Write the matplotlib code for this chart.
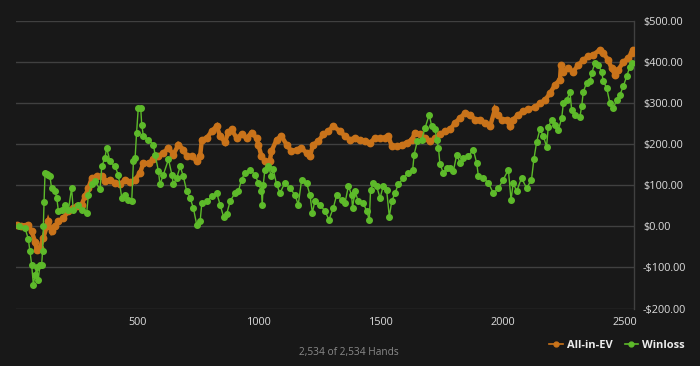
"""All-in-EV vs Winloss graph over 2,534 hands, dark theme."""

import matplotlib
matplotlib.use("Agg")
import matplotlib.pyplot as plt
from matplotlib.lines import Line2D
from matplotlib.ticker import FuncFormatter

# ----- data -----
ev_hands = [
    2, 20, 49, 63, 77, 84, 97, 111, 125, 131, 145, 159, 173, 193, 214, 234,
    248, 268, 282, 296, 310, 330, 351, 364, 385, 405, 426, 447, 467, 488, 508,
    522, 543, 563, 584, 604, 625, 645, 666, 686, 700, 721, 741, 755, 762, 782,
    803, 823, 837, 857, 871, 884, 905, 925, 946, 966, 987, 994, 1007, 1021,
    1041, 1048, 1069, 1089, 1110, 1130, 1151, 1171, 1192, 1206, 1219, 1240,
    1261, 1281, 1302, 1329, 1350, 1370, 1391, 1411, 1432, 1452, 1473, 1494,
    1514, 1528, 1542, 1562, 1583, 1603, 1624, 1638, 1658, 1679, 1699, 1720,
    1741, 1761, 1782, 1802, 1823, 1843, 1864, 1884, 1905, 1925, 1946, 1966,
    1980, 1993, 2014, 2028, 2041, 2062, 2082, 2103, 2130, 2151, 2172, 2192,
    2213, 2233, 2237, 2247, 2267, 2288, 2308, 2329, 2349, 2370, 2397, 2411,
    2431, 2445, 2459, 2472, 2493, 2513, 2527, 2534,
]
ev_values = [
    3, 2, 4, -12, -37, -57, -53, -28, 0, 12, -12, 0, 12, 20, 37, 45,
    49, 53, 73, 93, 118, 122, 122, 110, 114, 106, 102, 114, 108, 114, 130,
    154, 154, 163, 171, 179, 191, 175, 199, 187, 171, 171, 159, 171, 211, 215,
    232, 244, 220, 205, 230, 236, 215, 224, 215, 228, 215, 199, 171, 159,
    159, 183, 211, 220, 199, 183, 187, 191, 179, 171, 199, 207,
    224, 232, 244, 232, 220, 211, 215, 211, 207, 203, 215, 215,
    215, 220, 195, 195, 199, 203, 211, 228, 224, 215, 207, 214,
    224, 232, 236, 252, 264, 276, 272, 260, 260, 252, 244, 285,
    272, 260, 260, 244, 260, 272, 280, 285, 290, 300, 308, 324,
    345, 357, 393, 377, 385, 377, 393, 405, 414, 418, 430, 422,
    405, 385, 369, 381, 400, 410, 422, 430,
]

wl_hands = [
    10, 36, 49, 56, 63, 70, 77, 84, 90, 97, 104, 108, 111, 114, 118, 124,
    131, 138, 145, 159, 166, 173, 186, 200, 214, 227, 234, 255, 268, 289,
    296, 310, 323, 344, 351, 364, 371, 385, 405, 419, 433, 446, 460, 474,
    481, 488, 494, 501, 511, 515, 522, 542, 563, 570, 584, 590, 604, 625,
    639, 645, 659, 673, 686, 700, 714, 727, 741, 755, 762, 782, 803, 823,
    837, 851, 864, 878, 898, 912, 925, 939, 960, 980, 994, 1007, 1010, 1014,
    1021, 1035, 1048, 1055, 1069, 1083, 1103, 1124, 1144, 1158, 1172, 1192,
    1206, 1216, 1226, 1247, 1268, 1284, 1302, 1316, 1336, 1350, 1364, 1377,
    1381, 1391, 1405, 1425, 1439, 1450, 1455, 1466, 1480, 1494, 1507, 1521,
    1532, 1542, 1555, 1569, 1590, 1610, 1628, 1634, 1647, 1665, 1679, 1696,
    1706, 1720, 1727, 1734, 1740, 1754, 1768, 1782, 1795, 1809, 1823, 1836,
    1857, 1877, 1891, 1898, 1918, 1939, 1959, 1980, 2000, 2021, 2032, 2041,
    2055, 2075, 2096, 2116, 2126, 2137, 2151, 2165, 2178, 2185, 2199, 2213,
    2226, 2240, 2247, 2261, 2274, 2281, 2295, 2315, 2322, 2329, 2342, 2356,
    2363, 2377, 2390, 2404, 2411, 2425, 2438, 2452, 2466, 2479, 2493, 2507,
    2520, 2527,
]
wl_values = [
    0, -5, -30, -60, -93, -142, -118, -100, -130, -95, -93, -60, 0, 60, 130, 128,
    125, 122, 93, 85, 70, 37, 40, 53, 40, 93, 40, 53, 40, 32,
    77, 102, 110, 90, 146, 167, 191, 158, 146, 126, 70, 77, 65, 61,
    158, 167, 228, 289, 289, 248, 220, 211, 199, 175, 134, 102, 126, 163,
    126, 102, 118, 146, 122, 85, 69, 45, 4, 12, 57, 61, 73, 81,
    53, 24, 30, 61, 81, 85, 114, 130, 138, 126, 106, 85, 53, 100,
    138, 146, 122, 140, 102, 81, 106, 93, 77, 53, 114, 106,
    77, 33, 61, 53, 37, 16, 45, 77, 65, 57, 98, 77,
    45, 85, 61, 57, 37, 16, 89, 106, 98, 69, 98, 89,
    24, 61, 81, 102, 118, 130, 138, 175, 207, 211, 240, 272,
    244, 236, 211, 191, 152, 130, 142, 142, 134, 175, 154, 167,
    171, 187, 154, 122, 118, 106, 81, 93, 114, 138, 65, 106,
    85, 118, 93, 114, 164, 205, 237, 219, 194, 243, 259, 247,
    235, 263, 300, 308, 328, 284, 272, 267, 292, 328, 349, 353,
    373, 398, 393, 377, 353, 337, 300, 288, 308, 320, 341, 365,
    389, 398,
]

y_ticks = [-200, -100, 0, 100, 200, 300, 400, 500]
x_ticks = [500, 1000, 1500, 2000, 2500]

BG = "#181818"
GRID = "#404040"
EV_COLOR = "#c9731a"
WL_COLOR = "#5dba2a"

plt.rcParams["font.family"] = ["Open Sans", "DejaVu Sans"]

fig = plt.figure(figsize=(7.0, 3.66), dpi=100, facecolor=BG)
ax = fig.add_axes([0.0233, 0.157, 0.8824, 0.7856], facecolor=BG)

# orange band is drawn thick so the sparse points read as a solid trace
ax.plot(ev_hands, ev_values, color=EV_COLOR, lw=3.2, marker="o", ms=4.6,
        mec=EV_COLOR, mfc=EV_COLOR, solid_joinstyle="miter", zorder=3)
ax.plot(wl_hands, wl_values, color=WL_COLOR, lw=1.0, marker="o", ms=4.0,
        mec=WL_COLOR, mfc=WL_COLOR, zorder=4)

ax.set_xlim(0, 2537)
ax.set_ylim(-200, 500)
ax.set_yticks(y_ticks)
ax.set_xticks(x_ticks)
ax.yaxis.tick_right()
ax.yaxis.set_major_formatter(
    FuncFormatter(lambda v, _: f"-${abs(v):.2f}" if v < 0 else f"${v:.2f}"))
ax.tick_params(axis="y", length=0, pad=6.5, labelsize=7.8, labelcolor="#dcdcdc")
ax.tick_params(axis="x", length=0, pad=6, labelsize=7.8, labelcolor="#dcdcdc")
ax.grid(axis="y", color=GRID, lw=1.0)
for side in ("top", "left", "bottom"):
    ax.spines[side].set_visible(False)
ax.spines["right"].set_color(GRID)
ax.spines["right"].set_linewidth(1.0)

fig.text(0.499, 0.038, "2,534 of 2,534 Hands", ha="center", va="center",
         fontsize=7.3, color="#8a8a8a")

handles = [
    Line2D([], [], color=EV_COLOR, lw=1.2, marker="o", ms=3.5, label="All-in-EV"),
    Line2D([], [], color=WL_COLOR, lw=1.2, marker="o", ms=3.5, label="Winloss"),
]
leg = fig.legend(handles=handles, loc="center right", bbox_to_anchor=(0.992, 0.057),
                 ncol=2, frameon=False, handlelength=1.2, handletextpad=0.35,
                 columnspacing=1.1, prop={"size": 8, "weight": "bold"})
for t in leg.get_texts():
    t.set_color("#ececec")

fig.savefig("out.png", dpi=100, facecolor=BG)
